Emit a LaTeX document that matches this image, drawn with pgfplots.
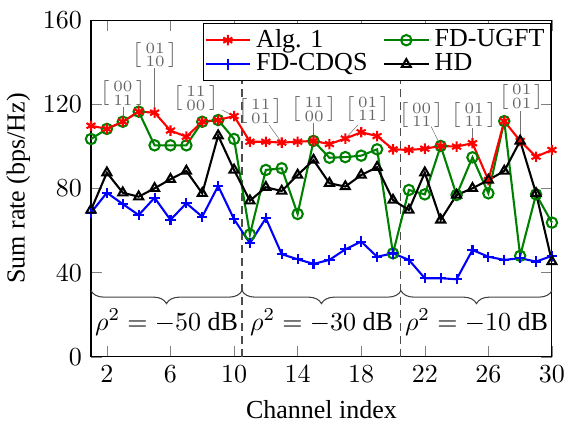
\documentclass[border=0pt]{standalone}
\usepackage{fontspec}
\setmainfont{Liberation Serif}
\usepackage{amsmath}
\usepackage{pgfplots}
\pgfplotsset{compat=1.18}
\usetikzlibrary{decorations.pathreplacing,calc}
\definecolor{dgreen}{RGB}{0,128,0}
\begin{document}
\begin{tikzpicture}
\begin{axis}[
  width=177.3pt, height=129.6pt, scale only axis,
  xmin=1, xmax=30, ymin=0, ymax=160,
  xtick={2,6,...,30}, ytick={0,40,...,160},
  xlabel={Channel index}, ylabel={Sum rate (bps/Hz)},
  ylabel style={yshift=-2pt},
  clip=false,
  legend columns=2,
  legend cell align=left,
  legend style={at={(0.998,0.992)}, anchor=north east, draw=black, fill=white,
    /tikz/every even column/.append style={column sep=4pt}, inner sep=0.3pt, row sep=-3pt},
  redst/.style={red, thick, mark=asterisk, mark options={solid}},
  grnst/.style={dgreen, thick, mark=o, mark options={solid}},
  blust/.style={blue, thick, mark=+, mark options={solid}},
  blkst/.style={black, thick, mark=triangle, mark options={solid}},
]
\addlegendimage{redst}\addlegendentry{Alg. 1}
\addlegendimage{grnst}\addlegendentry{FD-UGFT}
\addlegendimage{blust}\addlegendentry{FD-CDQS}
\addlegendimage{blkst}\addlegendentry{HD}

\draw[densely dashed, black!70] (axis cs:10.5,0) -- (axis cs:10.5,160);
\draw[densely dashed, black!70] (axis cs:20.5,0) -- (axis cs:20.5,160);

\addplot[grnst, forget plot] coordinates {
(1,103.5) (2,108.3) (3,111.7) (4,116.5) (5,100.5) (6,100.5) (7,100.5) (8,111.7) (9,112.5) (10,103.5)
(11,58.2) (12,88.8) (13,89.6) (14,67.9) (15,102.6) (16,94.6) (17,94.9) (18,95.6) (19,98.6) (20,49.2)
(21,79.3) (22,77.2) (23,100.2) (24,76.9) (25,94.8) (26,77.7) (27,112) (28,48) (29,77.2) (30,63.8)};
\addplot[redst, forget plot] coordinates {
(1,109.8) (2,108.3) (3,111.7) (4,116.5) (5,116) (6,107.5) (7,104.6) (8,111.7) (9,112.5) (10,114.4)
(11,102.2) (12,102.2) (13,101.8) (14,102.2) (15,102.6) (16,101.1) (17,103.7) (18,106.7) (19,104.9) (20,98.6)
(21,98.3) (22,98.9) (23,100.2) (24,99.9) (25,101.5) (26,84) (27,112) (28,102.6) (29,95.1) (30,98.3)};
\addplot[blust, forget plot] coordinates {
(1,68.5) (2,78) (3,72.6) (4,67.4) (5,75.6) (6,65.1) (7,73) (8,66.6) (9,81.2) (10,65.4)
(11,54) (12,65.9) (13,48.8) (14,46.4) (15,44.2) (16,46.1) (17,51.1) (18,54.8) (19,47.6) (20,49.2)
(21,46.1) (22,37.4) (23,37.4) (24,36.9) (25,50.8) (26,47.6) (27,46.1) (28,46.9) (29,45.3) (30,48)};
\addplot[blkst, forget plot] coordinates {
(1,69.8) (2,87.5) (3,78) (4,76.1) (5,80.1) (6,84.4) (7,88.3) (8,77.7) (9,105.1) (10,88.8)
(11,74.2) (12,80.6) (13,78.8) (14,86.4) (15,93.5) (16,82.5) (17,80.9) (18,86.4) (19,90.1) (20,74.5)
(21,69.8) (22,87.5) (23,65.1) (24,76.9) (25,80.1) (26,84) (27,88.3) (28,102.6) (29,77.7) (30,45.3)};

% braces
\draw[decorate, decoration={brace, mirror, amplitude=5pt}, black!75] (axis cs:1,31.5) -- (axis cs:10.5,31.5);
\draw[decorate, decoration={brace, mirror, amplitude=5pt}, black!75] (axis cs:10.5,31.5) -- (axis cs:20.5,31.5);
\draw[decorate, decoration={brace, mirror, amplitude=5pt}, black!75] (axis cs:20.5,31.5) -- (axis cs:30,31.5);
\node at (axis cs:5.75,16.6) {$\rho^2=-50~\mathrm{dB}$};
\node at (axis cs:15.5,16.6) {$\rho^2=-30~\mathrm{dB}$};
\node at (axis cs:25.25,16.6) {$\rho^2=-10~\mathrm{dB}$};

% annotations
\tikzset{ann/.style={text=black!60, font=\footnotesize, inner sep=0pt}, pinl/.style={black!55, very thin}}
\node[ann] at (axis cs:3,125.2) {$\left[\begin{smallmatrix}00\\11\end{smallmatrix}\right]$};
\draw[pinl] (axis cs:3,118.9) -- (axis cs:3,111.7);
\node[ann] at (axis cs:5.04,143.4) {$\left[\begin{smallmatrix}01\\10\end{smallmatrix}\right]$};
\draw[pinl] (axis cs:5,137) -- (axis cs:5,116);
\node[ann] at (axis cs:7.6,122.8) {$\left[\begin{smallmatrix}11\\00\end{smallmatrix}\right]$};
\draw[pinl] (axis cs:9.23,117.3) -- (axis cs:10,114.4);
\node[ann] at (axis cs:11.68,116.6) {$\left[\begin{smallmatrix}11\\01\end{smallmatrix}\right]$};
\draw[pinl] (axis cs:12.2,110.2) -- (axis cs:13,101.8);
\node[ann] at (axis cs:15.04,117.5) {$\left[\begin{smallmatrix}11\\00\end{smallmatrix}\right]$};
\draw[pinl] (axis cs:15,111) -- (axis cs:15,102.6);
\node[ann] at (axis cs:18.4,117.8) {$\left[\begin{smallmatrix}01\\11\end{smallmatrix}\right]$};
\draw[pinl] (axis cs:17.8,110.2) -- (axis cs:17,103.7);
\node[ann] at (axis cs:21.8,114.9) {$\left[\begin{smallmatrix}00\\11\end{smallmatrix}\right]$};
\draw[pinl] (axis cs:22.4,109.4) -- (axis cs:23,100.2);
\node[ann] at (axis cs:25.1,114.9) {$\left[\begin{smallmatrix}01\\11\end{smallmatrix}\right]$};
\draw[pinl] (axis cs:25,108.6) -- (axis cs:25,101.5);
\node[ann] at (axis cs:28.1,123.6) {$\left[\begin{smallmatrix}01\\01\end{smallmatrix}\right]$};
\draw[pinl] (axis cs:28,117) -- (axis cs:28,102.6);
\end{axis}
\pgfresetboundingbox
\path[use as bounding box] ($(current axis.south west)+(-35pt,-27pt)$) rectangle ($(current axis.north east)+(5.4pt,7.7pt)$);
\end{tikzpicture}
\end{document}
